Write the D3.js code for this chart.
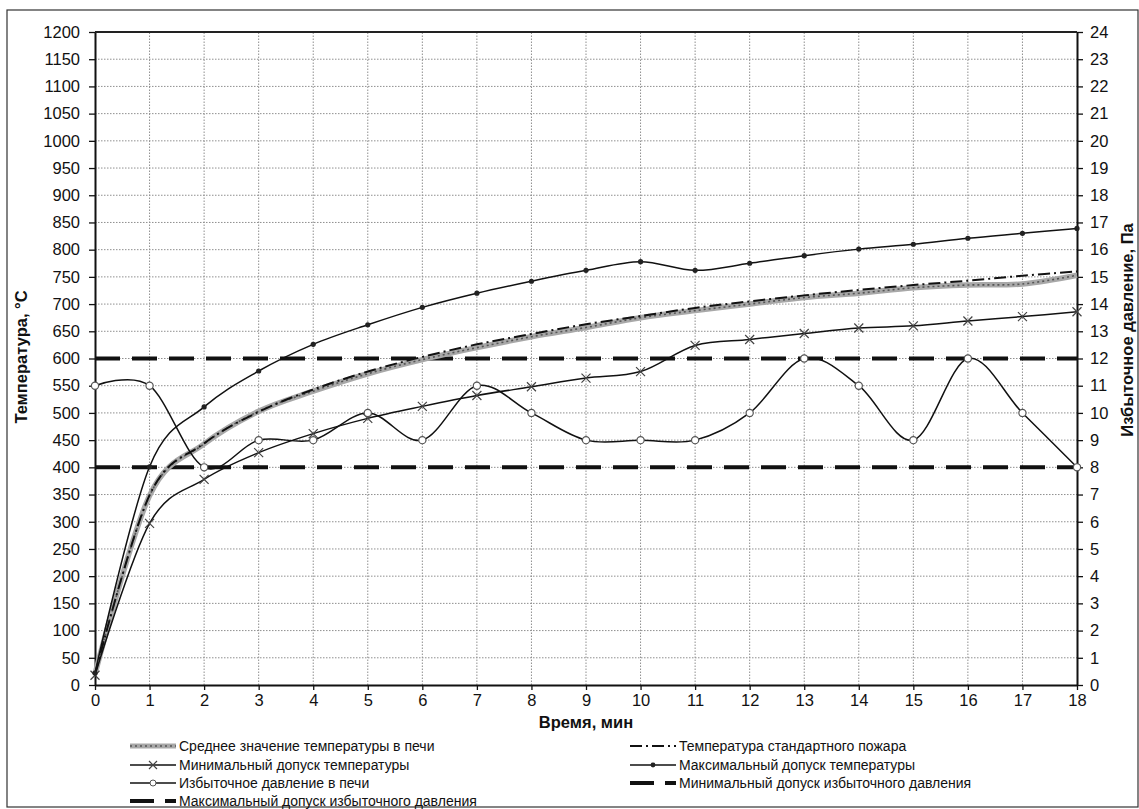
<!DOCTYPE html>
<html><head><meta charset="utf-8">
<script src="https://cdn.jsdelivr.net/npm/d3@7"></script>
<style>
body{margin:0;background:#fff}
text{font-family:"Liberation Sans",Arial,sans-serif;fill:#111}
</style></head>
<body><svg id="c" width="1139" height="809"></svg>
<script>
// ---- data ----
const minutes      = [0,1,2,3,4,5,6,7,8,9,10,11,12,13,14,15,16,17,18];
const avgTemp      = [20,348,443,503,540,572,598,620,640,657,675,688,700,712,720,730,735,737,753];
const standardTemp = [20,349,444,502,543,576,603,626,645,663,678,693,705,716,726,735,743,752,760];
const minTemp      = [18,297,378,427,462,490,512,532,548,564,576,624,635,646,656,660,669,677,686];
const maxTemp      = [22,401,511,577,626,662,694,720,742,762,778,762,775,789,801,810,821,830,839];
const pressure     = [11,11,8,9,9,10,9,11,10,9,9,9,10,12,11,9,12,10,8];
const pressureMinTol = [8,8];
const pressureMaxTol = [12,12];
const tolMinutes   = [0,18];
const tempTicks    = [0,50,100,150,200,250,300,350,400,450,500,550,600,650,700,750,800,850,900,950,1000,1050,1100,1150,1200];
const pressureTicks= [0,1,2,3,4,5,6,7,8,9,10,11,12,13,14,15,16,17,18,19,20,21,22,23,24];
const minuteTicks  = minutes;
const labels = {
  avg:"Среднее значение температуры в печи",
  std:"Температура стандартного пожара",
  min:"Минимальный  допуск температуры",
  max:"Максимальный  допуск температуры",
  p:"Избыточное давление в печи",
  pmin:"Минимальный  допуск избыточного давления",
  pmax:"Максимальный  допуск избыточного давления",
  yLeft:"Температура,  °С",
  yRight:"Избыточное  давление,  Па",
  x:"Время,  мин"
};

const svg = d3.select("#c");
const X0=95, X1=1077, Y0=685, Y1=32;
const x = d3.scaleLinear().domain([0,18]).range([X0,X1]);
const y = d3.scaleLinear().domain([0,1200]).range([Y0,Y1]);
const yp = d3.scaleLinear().domain([0,24]).range([Y0,Y1]);

// outer frame
svg.append("rect").attr("x",7).attr("y",10).attr("width",1131).attr("height",797)
  .attr("fill","none").attr("stroke","#333").attr("stroke-width",1.2);

// grid
const g = svg.append("g");
g.selectAll(".hg").data(tempTicks.slice(1,-1)).join("line")
  .attr("x1",X0).attr("x2",X1).attr("y1",d=>y(d)).attr("y2",d=>y(d))
  .attr("stroke","#8f8f8f").attr("stroke-width",1).attr("stroke-dasharray","1.5,1.5");
g.selectAll(".vg").data(minuteTicks.slice(1,-1)).join("line")
  .attr("y1",Y0).attr("y2",Y1).attr("x1",d=>x(d)).attr("x2",d=>x(d))
  .attr("stroke","#8f8f8f").attr("stroke-width",1).attr("stroke-dasharray","1.5,1.5");

// axes
const fontSize = "16.5px";
const fmt = d3.format("d");
const axL = svg.append("g").attr("transform",`translate(${X0},0)`)
  .call(d3.axisLeft(y).tickValues(tempTicks).tickFormat(fmt).tickSize(6).tickPadding(9).tickSizeOuter(0));
const axR = svg.append("g").attr("transform",`translate(${X1},0)`)
  .call(d3.axisRight(yp).tickValues(pressureTicks).tickFormat(fmt).tickSize(6).tickPadding(7).tickSizeOuter(0));
const axB = svg.append("g").attr("transform",`translate(0,${Y0})`)
  .call(d3.axisBottom(x).tickValues(minuteTicks).tickFormat(fmt).tickSize(5).tickPadding(4).tickSizeOuter(0));
[axL,axR,axB].forEach(a=>{
  a.selectAll("text").style("font-size",fontSize).attr("fill","#111");
  a.selectAll("line").attr("stroke","#111").attr("stroke-width",1.3);
  a.select(".domain").attr("stroke","#111").attr("stroke-width",2);
});
// top border of plot
svg.append("line").attr("x1",X0).attr("x2",X1).attr("y1",Y1).attr("y2",Y1)
  .attr("stroke","#222").attr("stroke-width",2);

// axis titles
svg.append("text").attr("transform",`translate(27,357) rotate(-90)`).attr("text-anchor","middle")
  .style("font-size","16.5px").style("font-weight","bold").text(labels.yLeft);
svg.append("text").attr("transform",`translate(1133,330) rotate(-90)`).attr("text-anchor","middle")
  .style("font-size","16.5px").style("font-weight","bold").text(labels.yRight);
svg.append("text").attr("x",586).attr("y",728).attr("text-anchor","middle")
  .style("font-size","16.5px").style("font-weight","bold").text(labels.x);

// lines
const curve = d3.curveCatmullRom.alpha(0);
const lineT = d3.line().x((d,i)=>x(minutes[i])).y(d=>y(d)).curve(curve);
const lineP = d3.line().x((d,i)=>x(minutes[i])).y(d=>yp(d)).curve(curve);
const lineTol = d3.line().x((d,i)=>x(tolMinutes[i])).y(d=>yp(d));

const tolStyle = sel => sel.attr("fill","none").attr("stroke","#111").attr("stroke-width",4).attr("stroke-dasharray","25,12");
svg.append("path").attr("d",lineTol(pressureMaxTol)).call(tolStyle);
svg.append("path").attr("d",lineTol(pressureMinTol)).call(tolStyle);

// average (thick textured gray)
svg.append("path").attr("d",lineT(avgTemp)).attr("fill","none").attr("stroke","#a8a8a8").attr("stroke-width",5.5);
svg.append("path").attr("d",lineT(avgTemp)).attr("fill","none").attr("stroke","#555").attr("stroke-width",1.6).attr("stroke-dasharray","2,3");
// standard
svg.append("path").attr("d",lineT(standardTemp)).attr("fill","none").attr("stroke","#111").attr("stroke-width",2).attr("stroke-dasharray","12,4,2,4");
// min / max
svg.append("path").attr("d",lineT(minTemp)).attr("fill","none").attr("stroke","#111").attr("stroke-width",1.5);
svg.append("path").attr("d",lineT(maxTemp)).attr("fill","none").attr("stroke","#111").attr("stroke-width",1.5);
svg.append("path").attr("d",lineP(pressure)).attr("fill","none").attr("stroke","#111").attr("stroke-width",1.5);

// markers
const xMark = (sel, s) => sel.attr("d",`M${-s},${-s}L${s},${s}M${-s},${s}L${s},${-s}`)
  .attr("stroke","#444").attr("stroke-width",1.2).attr("fill","none");
svg.append("g").selectAll("path").data(minTemp).join("path")
  .attr("transform",(d,i)=>`translate(${x(minutes[i])},${y(d)})`).call(xMark,4.5);
svg.append("g").selectAll("circle").data(maxTemp).join("circle")
  .attr("cx",(d,i)=>x(minutes[i])).attr("cy",d=>y(d)).attr("r",2.6).attr("fill","#222");
svg.append("g").selectAll("circle").data(pressure).join("circle")
  .attr("cx",(d,i)=>x(minutes[i])).attr("cy",d=>yp(d)).attr("r",3.6)
  .attr("fill","#fff").attr("stroke","#555").attr("stroke-width",1.2);

// legend
const leg = svg.append("g");
const rowsY = [746,765,783,801];
const items = [
  {col:0,row:0,key:"avg"},{col:1,row:0,key:"std"},
  {col:0,row:1,key:"min"},{col:1,row:1,key:"max"},
  {col:0,row:2,key:"p"},{col:1,row:2,key:"pmin"},
  {col:0,row:3,key:"pmax"}
];
const colX = [130,630];
items.forEach(it=>{
  const sx = colX[it.col], sy = rowsY[it.row], ex = sx+46, mx = sx+23;
  const gg = leg.append("g");
  if(it.key==="avg"){
    gg.append("line").attr("x1",sx).attr("x2",ex).attr("y1",sy).attr("y2",sy).attr("stroke","#a8a8a8").attr("stroke-width",5);
    gg.append("line").attr("x1",sx).attr("x2",ex).attr("y1",sy).attr("y2",sy).attr("stroke","#555").attr("stroke-width",1.5).attr("stroke-dasharray","2,3");
  } else if(it.key==="std"){
    gg.append("line").attr("x1",sx).attr("x2",ex).attr("y1",sy).attr("y2",sy).attr("stroke","#111").attr("stroke-width",2).attr("stroke-dasharray","12,4,2,4");
  } else if(it.key==="pmin"||it.key==="pmax"){
    gg.append("line").attr("x1",sx).attr("x2",sx+24).attr("y1",sy).attr("y2",sy).attr("stroke","#111").attr("stroke-width",4);
    gg.append("line").attr("x1",sx+35).attr("x2",ex).attr("y1",sy).attr("y2",sy).attr("stroke","#111").attr("stroke-width",4);
  } else {
    gg.append("line").attr("x1",sx).attr("x2",ex).attr("y1",sy).attr("y2",sy).attr("stroke","#111").attr("stroke-width",1.5);
    if(it.key==="min") gg.append("path").attr("transform",`translate(${mx},${sy})`).call(xMark,4);
    if(it.key==="max") gg.append("circle").attr("cx",mx).attr("cy",sy).attr("r",2.4).attr("fill","#222");
    if(it.key==="p") gg.append("circle").attr("cx",mx).attr("cy",sy).attr("r",3).attr("fill","#fff").attr("stroke","#555");
  }
  gg.append("text").attr("x",ex+3).attr("y",sy+5).style("font-size","14px").text(labels[it.key]);
});
</script></body></html>
